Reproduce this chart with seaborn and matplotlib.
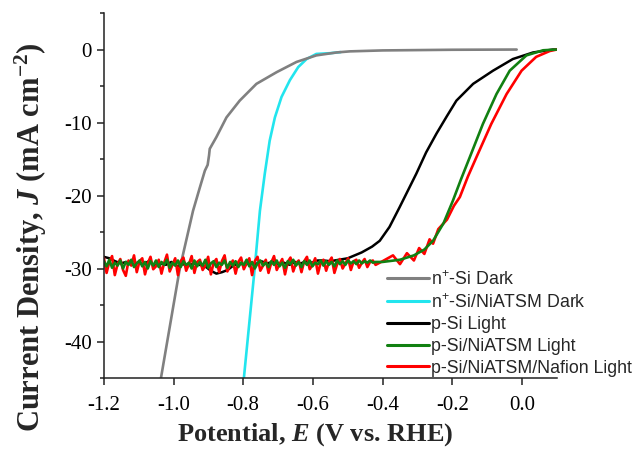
import numpy as np
import pandas as pd
import seaborn as sns
import matplotlib.pyplot as plt
from matplotlib.lines import Line2D
from matplotlib.ticker import MultipleLocator

# curves (potential in V vs RHE, current density in mA cm-2)
dark_n_E = [-1.036, -0.982, -0.944, -0.925, -0.910, -0.902, -0.898, -0.896, -0.877,
            -0.848, -0.810, -0.762, -0.704, -0.647, -0.590, -0.532, -0.494, -0.40,
            -0.20, -0.015]
dark_n_J = [-45.0, -30.0, -22.1, -19.0, -16.6, -15.8, -14.5, -13.6, -12.0,
            -9.3, -7.0, -4.7, -3.1, -1.7, -0.8, -0.4, -0.25, -0.12,
            -0.03, 0.0]

dark_cat_E = [-0.798, -0.767, -0.752, -0.738, -0.724, -0.709, -0.690, -0.666, -0.642,
              -0.618, -0.590, -0.551, -0.52]
dark_cat_J = [-45.0, -30.0, -22.1, -17.0, -12.5, -9.3, -6.5, -4.2, -2.4,
              -1.3, -0.6, -0.5, -0.35]

# noisy plateau values (evenly spaced potentials) followed by the rising part
psi_flat_J = [-28.4, -28.6, -29.0, -29.3, -29.1, -29.5, -29.2, -29.4, -29.0, -29.6,
              -29.3, -29.5, -29.1, -29.7, -29.4, -29.6, -29.3, -29.5, -29.7, -30.3,
              -30.7, -30.5, -30.2, -29.6, -29.3, -29.5, -29.2, -29.4, -29.0, -29.3,
              -29.1, -29.4, -29.2, -29.5, -29.1, -29.3, -29.0, -29.2, -28.9, -28.9]
psi_rise_E = [-0.55, -0.50, -0.46, -0.43, -0.408, -0.38, -0.351, -0.303, -0.275,
              -0.245, -0.215, -0.188, -0.14, -0.083, -0.026, 0.032, 0.089, 0.10]
psi_rise_J = [-29.0, -28.6, -27.8, -27.0, -26.2, -24.3, -21.6, -17.0, -14.1,
              -11.5, -9.1, -7.0, -4.7, -2.9, -1.3, -0.4, 0.0, 0.0]

cat_flat_J = [-29.0, -29.7, -28.8, -29.9, -29.2, -29.6, -28.9, -30.0, -29.1, -29.5,
              -28.8, -29.8, -29.3, -28.9, -29.7, -29.1, -30.0, -29.0, -29.6, -28.9,
              -29.8, -29.1, -29.5, -28.8, -29.9, -29.2, -29.6, -28.9, -29.8, -29.0,
              -29.5, -29.2, -30.0, -28.9, -29.7, -29.1, -29.6, -28.8, -29.9, -29.3,
              -29.0, -29.8, -29.2, -29.5, -28.9, -29.9, -29.1, -29.6, -29.0, -29.8,
              -29.2, -29.5, -28.8, -29.7, -29.1, -30.0, -29.3, -28.9, -29.6, -29.2,
              -29.8, -29.0, -29.5, -28.9, -29.7, -29.2, -29.9, -29.0, -29.4, -28.8,
              -29.6, -29.1, -29.8, -29.0, -29.5, -28.9, -29.7, -29.2, -29.4, -28.9,
              -29.6, -29.0, -29.5, -29.1, -29.7, -28.9, -29.4, -29.0, -29.5, -28.9,
              -29.3, -29.0, -29.4, -28.9, -29.3, -29.0, -29.2, -28.9, -29.2, -29.1]
cat_rise_E = [-0.40, -0.35, -0.31, -0.28, -0.255, -0.225, -0.198, -0.175, -0.150,
              -0.112, -0.073, -0.035, 0.013, 0.061, 0.099]
cat_rise_J = [-29.1, -28.8, -28.2, -27.4, -26.2, -23.8, -20.7, -17.8, -14.8,
              -10.2, -6.1, -2.9, -0.8, -0.1, 0.0]

naf_flat_J = [-28.5, -30.6, -29.1, -28.3, -30.9, -29.4, -28.7, -30.2, -31.0, -28.9,
              -29.6, -28.2, -30.5, -29.0, -28.6, -30.8, -29.3, -28.4, -30.1, -29.7,
              -28.8, -30.7, -29.2, -28.1, -30.4, -29.5, -28.6, -30.9, -29.0, -28.5,
              -30.3, -29.4, -28.3, -30.6, -29.1, -28.8, -30.2, -29.6, -28.4, -30.8,
              -29.2, -28.7, -30.5, -29.0, -28.2, -30.4, -29.5, -28.9, -30.7, -29.1,
              -28.5, -30.1, -29.3, -28.6, -30.9, -29.0, -28.4, -30.3, -29.6, -28.8,
              -30.6, -29.2, -28.3, -30.2, -29.4, -28.7, -30.8, -29.1, -28.5, -30.4,
              -29.3, -28.9, -30.5, -29.0, -28.4, -30.1, -29.5, -28.6, -30.7, -29.2,
              -28.8, -30.3, -29.1, -28.5, -30.6, -29.4, -28.7, -30.0, -29.3, -28.6,
              -30.2, -29.0, -28.8, -29.9, -29.2, -28.7, -29.8, -29.1, -28.9, -29.5]
naf_rise_E = [-0.40, -0.37, -0.35, -0.33, -0.31, -0.295, -0.28, -0.265, -0.255,
              -0.24, -0.215, -0.195, -0.178, -0.155, -0.131, -0.088, -0.044,
              -0.001, 0.041, 0.080, 0.10]
naf_rise_J = [-29.0, -28.2, -29.4, -27.9, -28.9, -27.2, -28.0, -26.0, -26.6,
              -24.6, -23.3, -21.4, -20.2, -17.4, -14.8, -10.2, -6.1,
              -2.9, -1.0, -0.2, 0.0]

labels = [r'n$^{\mathsf{+}}$-Si Dark', r'n$^{\mathsf{+}}$-Si/NiATSM Dark', 'p-Si Light',
          'p-Si/NiATSM Light', 'p-Si/NiATSM/Nafion Light']
colors = ['#808080', '#22e5ee', 'black', '#118011', '#ff0000']

sns.set_style('ticks')
plt.rcParams['font.family'] = ['Liberation Serif', 'DejaVu Serif']
plt.rcParams['axes.unicode_minus'] = False
plt.rcParams['mathtext.fontset'] = 'custom'
plt.rcParams['mathtext.rm'] = 'Liberation Serif'
plt.rcParams['mathtext.it'] = 'Liberation Serif:italic'
plt.rcParams['mathtext.bf'] = 'Liberation Serif:bold'
plt.rcParams['mathtext.bfit'] = 'Liberation Serif:italic:bold'
plt.rcParams['mathtext.sf'] = 'Liberation Sans'

psi_E = list(np.linspace(-1.2, -0.57, len(psi_flat_J))) + psi_rise_E
psi_J = psi_flat_J + psi_rise_J
cat_E = list(np.linspace(-1.2, -0.42, len(cat_flat_J))) + cat_rise_E
cat_J = cat_flat_J + cat_rise_J
naf_E = list(np.linspace(-1.2, -0.42, len(naf_flat_J))) + naf_rise_E
naf_J = naf_flat_J + naf_rise_J

series = [(dark_cat_E, dark_cat_J, 1, 1.9),
          (dark_n_E, dark_n_J, 0, 1.9),
          (psi_E, psi_J, 2, 1.8),
          (naf_E, naf_J, 4, 1.9),
          (cat_E, cat_J, 3, 1.9)]

fig = plt.figure(figsize=(6.37, 4.5), dpi=100)
ax = fig.add_axes([0.163, 0.16, 0.711, 0.811])

for E, J, k, lw in series:
    df = pd.DataFrame({'E': E, 'J': J})
    sns.lineplot(data=df, x='E', y='J', color=colors[k], lw=lw, sort=False,
                 estimator=None, ax=ax)

ax.set_xlim(-1.2, 0.1)
ax.set_ylim(-45, 5)
ax.set_xticks([-1.2, -1.0, -0.8, -0.6, -0.4, -0.2, 0.0])
ax.set_xticklabels(['-1.2', '-1.0', '-0.8', '-0.6', '-0.4', '-0.2', '0.0'])
ax.yaxis.set_major_locator(MultipleLocator(10))
ax.yaxis.set_minor_locator(MultipleLocator(5))
ax.tick_params(axis='both', which='major', direction='out', length=5, width=1.1,
               labelsize=15, colors='#222222', labelcolor='black')
ax.tick_params(axis='x', which='major', pad=8)
ax.tick_params(axis='y', which='minor', direction='out', length=3, width=1.1, colors='#222222')
sns.despine(ax=ax)
for s in ['left', 'bottom']:
    ax.spines[s].set_linewidth(1.1)
    ax.spines[s].set_color('#222222')

ax.set_xlabel(r'Potential, $\mathbfit{E}$ (V vs. RHE)', fontsize=19, fontweight='bold')
ax.set_ylabel(r'Current Density, $\mathbfit{J}$ (mA cm$^{\mathbf{-2}}$)', fontsize=22,
              fontweight='bold')
ax.xaxis.set_label_coords(0.466, -0.118)
ax.yaxis.set_label_coords(-0.121, 0.386)

handles = [Line2D([], [], color=colors[k], lw=2.2) for k in range(5)]
fig.legend(handles, labels, loc='upper left', bbox_to_anchor=(0.607, 0.399),
           frameon=False, borderpad=0, borderaxespad=0, handlelength=2.36,
           handletextpad=0.15, labelspacing=0.27,
           prop={'family': 'Liberation Sans', 'size': 12.8})

fig.savefig('out.png', dpi=100)
